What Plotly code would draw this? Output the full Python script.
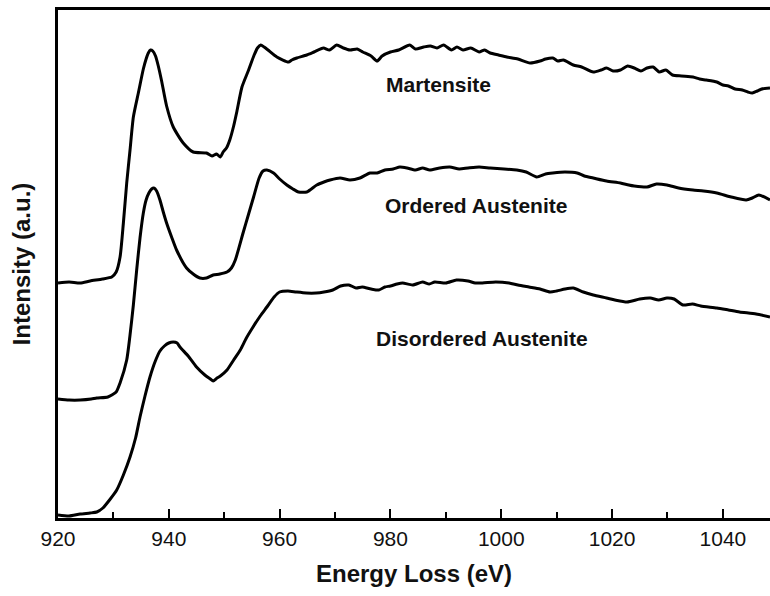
import plotly.graph_objects as go

# Energy loss (eV) and intensity (a.u.)
mart_e = [920, 922, 924, 925.8, 928, 929.7, 930.5, 931.2, 931.8, 932.4, 933.0, 933.6, 934.5, 935.4, 935.9,
          936.3, 936.7, 937.1, 937.6, 938.1, 938.7, 939.6, 940.8, 942.6, 944.4, 946.8, 947.8, 948.6, 949.3,
          949.8, 950.4, 951.0, 951.7, 952.3, 953.2, 954.4, 955.4, 956.0, 956.6, 957.2, 957.9, 959.5,
          961.6, 962.2, 963.1, 964.9, 966.2, 967.9, 969, 970.3, 971.5, 972.7, 974, 975, 976.5, 977.6, 978.5,
          980, 981.5, 983.5, 984.5, 986, 987.2, 988.4, 989.6, 991, 992, 993.1, 994.5, 996, 997, 998, 999.5,
          1001, 1003, 1005.2, 1007, 1008, 1009.3, 1010.2, 1011.2, 1013, 1014.5, 1016.6, 1018, 1019, 1020.2,
          1021.5, 1022.8, 1024, 1025.2, 1026.3, 1027.4, 1028.5, 1029.7, 1030.9, 1032.5, 1034.6, 1035.8,
          1037, 1038.9, 1040, 1041, 1042.2, 1043.5, 1044.5, 1045.3, 1046.2, 1047, 1048.5]
mart_i = [235, 236, 235, 237, 239, 241, 246, 261, 295, 335, 368, 401, 425, 449, 459,
          465, 468, 467, 462, 452, 437, 412, 391, 375, 366, 365, 362, 364, 361,
          366, 370, 378, 392, 407, 431, 448, 463, 470, 473, 471, 468, 461,
          456, 458, 460, 463, 466, 470, 468, 473, 470, 468, 469, 466, 462, 457, 462,
          466, 468, 473, 469, 471, 472, 470, 473, 468, 471, 468, 470, 466, 468, 465, 463,
          461, 459, 455, 457, 459, 460, 457, 458, 453, 451, 446, 448, 450, 447,
          448, 452, 450, 447, 450, 451, 446, 448, 443, 442, 441, 439,
          438, 436, 433, 432, 429, 428, 426, 425, 427, 429, 430]

ord_e = [920, 922, 924, 926, 927, 929, 930.5, 931.2, 932.4, 933.0, 933.6, 934.2, 934.8, 935.4, 935.9,
         936.4, 936.9, 937.3, 937.8, 938.4, 939.0, 939.6, 940.5, 941.4, 943.2, 944.4, 945.6, 946.8, 948.0,
         949.2, 950.5, 951.3, 952.0, 953.4, 954.4, 955.3, 956.3, 957.0, 957.7, 958.9, 960, 961.3, 962.4,
         963.4, 964.9, 966.7, 968, 969.1, 970.9, 972.7, 974.5, 976.3, 977.6, 979, 980.5, 981.7, 983,
         984.5, 985.8, 987.1, 988.9, 990.7, 992.4, 994, 996, 998, 1000.5, 1002.8, 1004.5, 1006.4, 1008,
         1009.3, 1011.5, 1013.7, 1015, 1016.6, 1019, 1021.5, 1023, 1024, 1026.3, 1028, 1029.9, 1032,
         1034.6, 1036.5, 1038.9, 1041.5, 1044.2, 1045.3, 1046.5, 1048.5]
ord_i = [119, 118, 118, 119, 120, 121, 126, 135, 158, 183, 213, 248, 280, 305, 318,
         325, 329, 330, 327, 318, 306, 295, 281, 268, 250, 244, 240, 240, 243,
         244, 246, 250, 258, 285, 304, 321, 340, 347, 348, 345, 339, 333, 329,
         326, 326, 333, 336, 338, 340, 338, 340, 345, 345, 348, 349, 351, 350,
         348, 350, 348, 350, 351, 349, 350, 351, 350, 349, 348, 346, 341, 344,
         345, 346, 345, 342, 340, 337, 335, 333, 332, 331, 334, 333, 330,
         328, 327, 325, 321, 318, 320, 323, 318]

dis_e = [920, 922, 924, 925.8, 927, 928.1, 929.3, 930.6, 931.8, 933, 934, 934.8, 935.7, 936.6, 937.5,
         938.4, 939.2, 940, 940.8, 941.5, 942, 943.5, 945, 946.5, 947.5, 948, 948.7, 949.3, 950.5, 951.7,
         952.9, 954, 955.2, 956.5, 957.7, 959, 960, 961.5, 963, 964.8, 966.6, 968, 969.6, 971, 972.5,
         973.8, 974.9, 976.5, 977.9, 979, 980, 981.2, 982.2, 984, 985.8, 987, 988, 990, 991.9, 994, 995.3,
         996.6, 999, 1001.4, 1003, 1005, 1007, 1008.8, 1010, 1011.5, 1013, 1014.8, 1016.6, 1019, 1020.5,
         1022.7, 1025, 1026.9, 1028.4, 1029.9, 1031.2, 1032.8, 1034.5, 1036, 1038.9, 1041, 1043, 1046,
         1048.5]
dis_i = [3, 2, 4, 5, 6, 10, 18, 28, 43, 61, 80, 101, 122, 141, 156,
         167, 172, 175, 176, 175, 171, 162, 151, 143, 139, 137, 140, 142, 148, 158,
         168, 180, 191, 202, 211, 221, 226, 227, 226, 225, 225, 226, 228, 232, 233,
         230, 231, 229, 228, 231, 232, 234, 235, 233, 236, 234, 236, 235, 238, 237, 235,
         235, 236, 235, 233, 231, 229, 226, 227, 229, 230, 226, 223, 220, 218,
         216, 219, 220, 218, 220, 219, 213, 214, 212, 210, 208, 206, 204,
         201]

labels = ["Martensite", "Ordered Austenite", "Disordered Austenite"]
label_e = [988.6, 995.5, 996.5]
label_i = [434, 313, 180]

x_ticks = [920, 940, 960, 980, 1000, 1020, 1040]

FONT = "Liberation Sans, Arial, Helvetica, sans-serif"

fig = go.Figure()
for e, i, name in [(mart_e, mart_i, labels[0]), (ord_e, ord_i, labels[1]), (dis_e, dis_i, labels[2])]:
    fig.add_trace(go.Scatter(x=e, y=i, mode="lines", name=name,
                             line=dict(color="black", width=3, shape="spline", smoothing=0.6),
                             showlegend=False))

for t, xe, yi in zip(labels, label_e, label_i):
    fig.add_annotation(x=xe, y=yi, xref="x", yref="y", text="<b>" + t + "</b>",
                       showarrow=False, font=dict(family=FONT, size=21, color="#111"))

fig.update_layout(
    width=770, height=596,
    margin=dict(l=58, r=0, t=10, b=78),
    paper_bgcolor="white", plot_bgcolor="white",
    font=dict(family=FONT, color="black"),
)
fig.update_xaxes(
    range=[920, 1048.5], tickvals=x_ticks, ticktext=[str(v) for v in x_ticks],
    ticks="inside", ticklen=9, tickwidth=2, tickcolor="black",
    minor=dict(ticks="inside", ticklen=6, tickwidth=2, dtick=10, tick0=920, tickcolor="black"),
    showline=True, linewidth=3, linecolor="black", mirror=True,
    showgrid=False, zeroline=False,
    tickfont=dict(family=FONT, size=21, color="#111"),
    ticklabelstandoff=0,
    title=dict(text="<b>Energy Loss (eV)</b>", font=dict(family=FONT, size=24, color="#111"), standoff=16),
)
fig.update_yaxes(
    range=[0, 508], showticklabels=False, ticks="",
    showline=True, linewidth=3, linecolor="black",
    showgrid=False, zeroline=False,
    title=dict(text="<b>Intensity (a.u.)</b>", font=dict(family=FONT, size=24, color="#111"), standoff=18),
)

fig.write_html("out.html")
